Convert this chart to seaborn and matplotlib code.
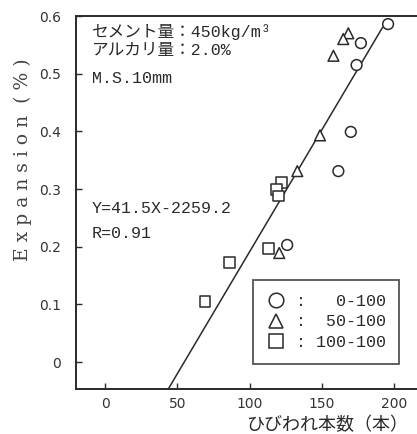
import numpy as np
import pandas as pd
import matplotlib
matplotlib.use("Agg")
import matplotlib.pyplot as plt
import seaborn as sns
from matplotlib.lines import Line2D

# ---- data ----
circle_x = [195.8, 177.0, 174.0, 170.0, 161.4, 126.0]
circle_y = [0.586, 0.553, 0.515, 0.399, 0.331, 0.203]
tri_x = [168.3, 164.8, 158.0, 148.7, 133.0, 120.5]
tri_y = [0.570, 0.560, 0.531, 0.393, 0.331, 0.189]
sq_x = [122.2, 118.7, 119.9, 113.0, 86.0, 69.2]
sq_y = [0.311, 0.299, 0.288, 0.197, 0.173, 0.105]
groups = ["0-100", "50-100", "100-100"]
fit_slope = 0.00423
fit_intercept = -0.2318
fit_x_range = [43.5, 192.0]
x_ticks = [0, 50, 100, 150, 200]
y_ticks = [0, 0.1, 0.2, 0.3, 0.4, 0.5, 0.6]
y_ticklabels = ["0", "0.1", "0.2", "0.3", "0.4", "0.5", "0.6"]

df = pd.DataFrame({
    "x": circle_x + tri_x + sq_x,
    "y": circle_y + tri_y + sq_y,
    "g": [groups[0]] * len(circle_x) + [groups[1]] * len(tri_x) + [groups[2]] * len(sq_x),
})

sns.set_style("ticks")
plt.rcParams["font.family"] = ["DejaVu Sans", "Noto Sans CJK JP"]
ink = "#2a2a2a"

fig = plt.figure(figsize=(4.17, 4.34), dpi=100)
ax = fig.add_axes([76 / 417, 45 / 434, 342 / 417, 373 / 434])

lx = np.array(fit_x_range)
ly = fit_slope * lx + fit_intercept
sns.lineplot(x=lx, y=ly, ax=ax, color=ink, lw=1.1, zorder=2)

markers = {groups[0]: "o", groups[1]: "^", groups[2]: "s"}
sns.scatterplot(data=df, x="x", y="y", style="g", markers=markers, ax=ax,
                s=60, facecolor="white", edgecolor=ink, linewidth=1.1,
                legend=False, zorder=3)

ax.set_xlim(-20.1, 216.5)
ax.set_ylim(-0.0468, 0.6)
ax.set_xticks(x_ticks)
ax.set_xticklabels([str(v) for v in x_ticks])
ax.set_yticks(y_ticks)
ax.set_yticklabels(y_ticklabels)
ax.tick_params(direction="in", length=4, width=1, colors=ink, labelsize=10,
               labelcolor="#333333")
ax.tick_params(axis="y", pad=11)
ax.tick_params(axis="x", pad=6)
for s in ["left", "bottom", "top"]:
    ax.spines[s].set_color(ink)
    ax.spines[s].set_linewidth(1.4)
ax.spines["right"].set_visible(False)

ax.set_xlabel("ひびわれ本数（本）", fontsize=13, family=["Noto Sans CJK JP"],
              color=ink, labelpad=0)
ax.xaxis.set_label_coords(0.735, -0.073)
ax.set_ylabel("E x p a n s i o n  ( % )", fontsize=13.5, family=["DejaVu Serif"],
              color="#444444")
ax.yaxis.set_label_coords(-0.13, 0.615)

mono = ["Liberation Mono", "Noto Sans CJK JP"]
tkw = dict(transform=ax.transAxes, fontsize=12, family=mono, color=ink,
           va="center", ha="left")
ax.text(0.047, 0.957, "セメント量：450kg/m³", **tkw)
ax.text(0.047, 0.907, "アルカリ量：2.0%", **tkw)
ax.text(0.047, 0.833, "M.S.10mm", **tkw)
ax.text(0.047, 0.485, "Y=41.5X-2259.2", **tkw)
ax.text(0.047, 0.418, "R=0.91", **tkw)

handles = [Line2D([], [], ls="none", marker=markers[g], markersize=10.5,
                  markerfacecolor="white", markeredgecolor=ink, markeredgewidth=1.1)
           for g in groups]
labels = [":   0-100", ":  50-100", ": 100-100"]
leg = ax.legend(handles, labels, loc="lower right", bbox_to_anchor=(0.945, 0.068),
                frameon=True, fancybox=False, prop={"family": "Liberation Mono", "size": 12},
                handlelength=1.2, handletextpad=0.6, labelspacing=0.35,
                borderpad=0.8, borderaxespad=0)
leg.get_frame().set_edgecolor(ink)
leg.get_frame().set_linewidth(1.3)
for t in leg.get_texts():
    t.set_color(ink)

fig.savefig("out.png", dpi=100)
